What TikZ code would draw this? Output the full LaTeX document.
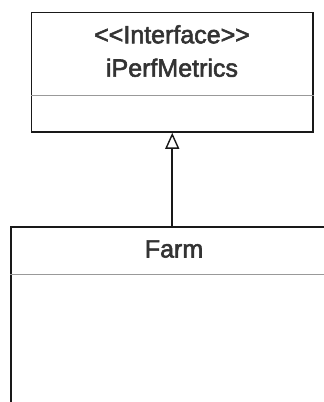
\documentclass[tikz,border=0pt]{standalone}
\usepackage{fontspec}
\setmainfont{Liberation Sans}[FakeBold=2.2]
\usetikzlibrary{arrows.meta}
\tikzset{
  classbox/.style={draw=black!90, line width=1.6pt, fill=white, inner sep=0pt},
  divider/.style={draw=black!40, line width=1.2pt},
  umltext/.style={font=\fontsize{25}{29}\selectfont, text=black!80, anchor=base, inner sep=0pt},
  realize/.style={draw=black!90, line width=1.6pt,
    {Triangle[open, width=14pt, length=16pt, line width=1.4pt, fill=white]}-}
}
\begin{document}
\begin{tikzpicture}[x=1pt, y=1pt]
  \useasboundingbox (0,0) rectangle (324,-402);
  \clip (0,0) rectangle (324,-402);

  % interface class
  \node[classbox, minimum width=281.5pt, minimum height=119.5pt]
    (iface) at (172.25,-72.25) {};
  \draw[divider] ([yshift=-84pt]iface.north west) coordinate (ifdl)
    -- ([yshift=-84pt]iface.north east) coordinate (ifdr);
  \node[umltext] (stereo) at (172,-43.3) {<{}<Interface>{}>};
  \node[umltext] (ifname) at (172,-76.7) {iPerfMetrics};

  % implementing class
  \node[classbox, minimum width=326pt, minimum height=200pt]
    (farm) at (174,-327) {};
  \draw[divider] ([yshift=-48pt]farm.north west) coordinate (fmdl)
    -- ([yshift=-48pt]farm.north east) coordinate (fmdr);
  \node[umltext] (fmname) at (174,-257.5) {Farm};

  % realization arrow
  \draw[realize] (iface.south) -- (iface.south |- farm.north);
\end{tikzpicture}
\end{document}
